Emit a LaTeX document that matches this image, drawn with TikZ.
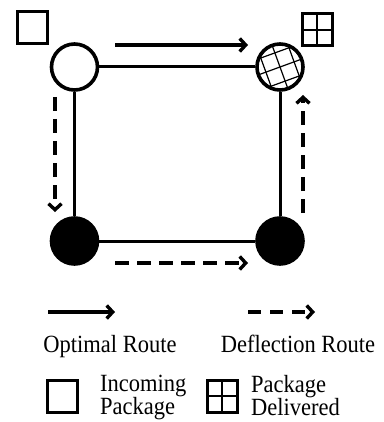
\documentclass[tikz,border=0pt]{standalone}
\usepackage{fontspec}
\setmainfont{Liberation Serif}
\usetikzlibrary{arrows.meta}

\tikzset{
  router/.style = {circle, draw, line width=3.6pt, minimum size=46pt, inner sep=0pt},
  link/.style = {line width=3pt},
  optimal/.style = {line width=3.4pt, -{Straight Barb[length=6pt, width=13pt]}},
  deflect/.style = {optimal, dash pattern=on 14pt off 8pt},
  pkgbox/.style = {draw, line width=3pt, minimum width=30pt, minimum height=32pt, inner sep=0pt},
  gridbox/.style = {pkgbox, path picture={
      \draw[line width=1.2pt] (path picture bounding box.north) -- (path picture bounding box.south);
      \draw[line width=1.2pt] (path picture bounding box.west) -- (path picture bounding box.east);
    }},
  hatched/.style = {path picture={
      \foreach \o in {-15,0,15} {
        \draw[line width=1.2pt] (path picture bounding box.center) ++(110:\o pt) ++(20:30pt) -- ++(200:60pt);
        \draw[line width=1.2pt] (path picture bounding box.center) ++(20:\o pt) ++(110:30pt) -- ++(290:60pt);
      }
    }},
  legendtext/.style = {font=\fontsize{22.5}{21}\selectfont, inner sep=0pt,
    yscale=1.1, transform shape}
}

\begin{document}
\begin{tikzpicture}[x=1pt, y=-1pt]
  \useasboundingbox (0,0) rectangle (383,422);

  % routers
  \node[router] (inc) at (74.5,67) {};
  \node[router, hatched] (dst) at (280,67) {};
  \node[router, fill] (bl) at (74.5,241) {};
  \node[router, fill] (br) at (280,241) {};

  \draw[link] (inc) -- (dst);
  \draw[link] (dst) -- (br);
  \draw[link] (br) -- (bl);
  \draw[link] (bl) -- (inc);

  % packages
  \node[pkgbox] (pkg in) at (32,28) {};
  \node[gridbox] (pkg out) at (317,30) {};

  % routes
  \coordinate (opt a) at (115,45);
  \coordinate (opt b) at (248,45);
  \draw[optimal] (opt a) -- (opt b);

  \coordinate (left a) at (55,97);
  \coordinate (left b) at (55,212);
  \draw[deflect] (left a) -- (left b);

  \coordinate (low a) at (115,263);
  \coordinate (low b) at (248,263);
  \draw[deflect] (low a) -- (low b);

  \coordinate (right a) at (303,213);
  \coordinate (right b) at (303,95);
  \draw[deflect] (right a) -- (right b);

  % legend
  \coordinate (key opt a) at (48,312);
  \coordinate (key opt b) at (115,312);
  \draw[optimal] (key opt a) -- (key opt b);
  \coordinate (key def a) at (248,312);
  \coordinate (key def b) at (315,312);
  \draw[deflect, dash pattern=on 13pt off 9pt] (key def a) -- (key def b);

  \node[legendtext, anchor=base] (opt text) at (110,352) {Optimal Route};
  \node[legendtext, anchor=base] (def text) at (298,352) {Deflection Route};

  \node[pkgbox] (key in) at (62,396) {};
  \node[legendtext, anchor=north west, align=left] (in text) at (100,375) {Incoming\\Package};
  \node[gridbox] (key out) at (222,396) {};
  \node[legendtext, anchor=north west, align=left] (out text) at (251,375) {Package\\Delivered};
\end{tikzpicture}
\end{document}
